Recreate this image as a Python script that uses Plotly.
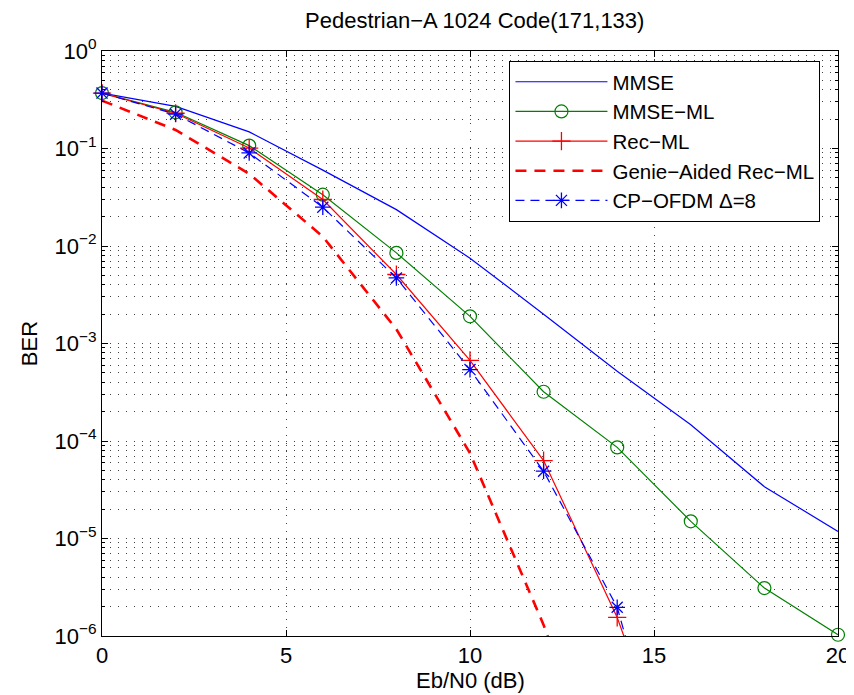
import plotly.graph_objects as go

# ---- data ----
ebn0_db = [0, 2, 4, 6, 8, 10, 12, 14, 16, 18, 20]
ber_mmse = [0.37, 0.27, 0.148, 0.060, 0.0236, 0.0075, 2.0e-3, 5.2e-4, 1.47e-4, 3.4e-5, 1.18e-5]
ber_mmse_ml = [0.37, 0.235, 0.107, 0.0336, 0.0085, 0.0019, 3.2e-4, 8.6e-5, 1.5e-5, 3.1e-6, 1.03e-6]
ebn0_rec = [0, 2, 4, 6, 8, 10, 12, 14, 16]
ber_rec_ml = [0.37, 0.23, 0.101, 0.030, 0.0051, 6.7e-4, 6.3e-5, 1.55e-6, 1.2e-8]
ebn0_genie = [0, 2, 4, 6, 8, 10, 12, 14]
ber_genie = [0.31, 0.155, 0.055, 0.0125, 1.4e-3, 7.5e-5, 1.3e-6, 1e-8]
ebn0_cp = [0, 2, 4, 6, 8, 10, 12, 14, 16]
ber_cp_ofdm = [0.37, 0.225, 0.09, 0.025, 0.0047, 5.4e-4, 4.9e-5, 1.97e-6, 4e-9]

series_names = ["MMSE", "MMSE\u2212ML", "Rec\u2212ML", "Genie\u2212Aided Rec\u2212ML", "CP\u2212OFDM \u0394=8"]
title_text = "Pedestrian\u2212A 1024 Code(171,133)"
x_title = "Eb/N0 (dB)"
y_title = "BER"
x_ticks = [0, 5, 10, 15, 20]
y_exponents = [0, -1, -2, -3, -4, -5, -6]

FONT = "Liberation Sans, Arial, Helvetica, sans-serif"
FS = 22
W, H = 854, 695
ML, MR, MT, MB = 94, 14, 43, 67

fig = go.Figure()
fig.add_trace(go.Scatter(x=ebn0_db, y=ber_mmse, name=series_names[0], mode="lines",
                         line=dict(color="#0000ff", width=1.2)))
fig.add_trace(go.Scatter(x=ebn0_db, y=ber_mmse_ml, name=series_names[1], mode="lines+markers",
                         line=dict(color="#008000", width=1.2),
                         marker=dict(symbol="circle-open", size=13, color="#008000",
                                     line=dict(width=1.2, color="#008000")),
                         cliponaxis=False))
fig.add_trace(go.Scatter(x=ebn0_rec, y=ber_rec_ml, name=series_names[2], mode="lines+markers",
                         line=dict(color="#ff0000", width=1.2),
                         marker=dict(symbol="cross-thin-open", size=13, color="#ff0000",
                                     line=dict(width=1.3, color="#ff0000")),
                         cliponaxis=False))
fig.add_trace(go.Scatter(x=ebn0_genie, y=ber_genie, name=series_names[3], mode="lines",
                         line=dict(color="#ff0000", width=2.6, dash="11px,8px")))
fig.add_trace(go.Scatter(x=ebn0_cp, y=ber_cp_ofdm, name=series_names[4], mode="lines+markers",
                         line=dict(color="#0000ff", width=1.2, dash="9px,6px"),
                         marker=dict(symbol="asterisk-open", size=13, color="#0000ff",
                                     line=dict(width=1.3, color="#0000ff")),
                         cliponaxis=False))

minor_y = [m * 10.0 ** e for e in range(-6, 0) for m in range(2, 10)]

GRIDC = "rgba(0,0,0,0.75)"
grid_style = dict(showgrid=True, gridcolor=GRIDC, gridwidth=1, griddash="1px,7px")

fig.update_xaxes(range=[0, 20], tickvals=x_ticks, ticktext=[str(v) for v in x_ticks],
                 ticks="inside", ticklen=6, tickcolor="black", ticklabelstandoff=0,
                 showline=True, linecolor="black", linewidth=1, mirror="allticks",
                 zeroline=False,
                 tickfont=dict(size=FS, color="black"), **grid_style)
fig.update_yaxes(type="log", range=[-6, 0],
                 tickvals=[10.0 ** e for e in y_exponents],
                 ticktext=["10<sup>%s</sup>" % (str(e).replace("-", "\u2212")) for e in y_exponents],
                 ticks="inside", ticklen=6, tickcolor="black",
                 showline=True, linecolor="black", linewidth=1, mirror="allticks",
                 zeroline=False, title=dict(text=y_title, font=dict(size=FS, color="black"), standoff=10),
                 tickfont=dict(size=FS, color="black"),
                 minor=dict(tickvals=minor_y, ticks="inside", ticklen=3, tickcolor="black",
                            showgrid=True, gridcolor=GRIDC, gridwidth=1, griddash="1px,7px"),
                 **grid_style)

# x-axis title as positioned text (center ~672 px from top)
fig.add_annotation(text=x_title, xref="paper", yref="paper",
                   x=0.5, y=-(672 - (H - MB)) / (H - MT - MB), xanchor="center", yanchor="middle",
                   showarrow=False, font=dict(size=FS, color="black"))

fig.update_layout(
    width=W, height=H,
    margin=dict(l=ML, r=MR, t=MT, b=MB),
    paper_bgcolor="white", plot_bgcolor="white",
    font=dict(family=FONT, color="black"),
    title=dict(text=title_text, x=0.5465, xanchor="center", y=1 - 12 / H, yanchor="middle",
               font=dict(size=FS, color="black")),
    legend=dict(x=0.5536, y=0.983, xanchor="left", yanchor="top",
                bgcolor="white", bordercolor="black", borderwidth=1,
                itemwidth=92,
                font=dict(size=20.5, color="black"), traceorder="normal"),
    showlegend=True,
)

fig.write_html("out.html")
